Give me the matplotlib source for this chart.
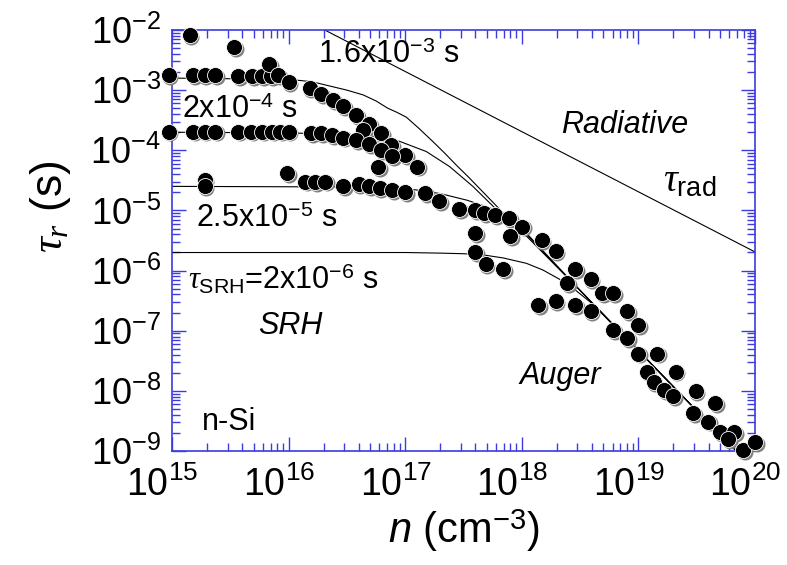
import numpy as np
import matplotlib
matplotlib.use('Agg')
import matplotlib.pyplot as plt
from matplotlib import font_manager
from matplotlib.ticker import NullFormatter
from matplotlib.transforms import ScaledTranslation

# valori, come log10(n) e log10(tau)
# riga alta (tau_SRH = 1.6e-3 s)
log_n_r1 = [15.15, 15.53, 14.97, 15.18, 15.28, 15.37, 15.57, 15.69, 15.77, 15.85, 15.83, 15.91,
            16.00, 16.18, 16.28, 16.38, 16.47, 16.58, 16.69, 16.64, 16.79, 16.88, 17.00, 17.10]
log_tau_r1 = [-2.09, -2.29, -2.75, -2.75, -2.75, -2.75, -2.76, -2.76, -2.76, -2.76, -2.57, -2.75,
              -2.87, -2.96, -3.07, -3.16, -3.26, -3.41, -3.56, -3.66, -3.72, -3.91, -4.08, -4.27]
# seconda riga (2e-4 s)
log_n_r2 = [14.97, 15.18, 15.28, 15.37, 15.57, 15.68, 15.77, 15.86, 15.93, 16.00, 16.19, 16.28,
            16.37, 16.47, 16.58, 16.69, 16.79, 16.89, 16.77]
log_tau_r2 = [-3.69, -3.69, -3.69, -3.69, -3.69, -3.69, -3.69, -3.69, -3.69, -3.69, -3.72, -3.72,
              -3.75, -3.79, -3.83, -3.90, -4.00, -4.09, -4.28]
# terza riga (2.5e-5 s)
log_n_r3 = [15.28, 15.28, 15.99, 16.14, 16.23, 16.31, 16.47, 16.60, 16.69, 16.78, 16.89, 17.00,
            17.17, 17.29, 17.46, 17.60, 17.68, 17.77, 17.89, 18.00]
log_tau_r3 = [-4.49, -4.60, -4.38, -4.52, -4.53, -4.52, -4.59, -4.56, -4.60, -4.63, -4.66, -4.69,
              -4.71, -4.84, -4.98, -4.99, -5.04, -5.08, -5.13, -5.27]
# regione Auger
log_n_r4 = [17.60, 17.90, 18.17, 18.29, 17.60, 17.69, 17.84, 18.46, 18.59, 18.39, 18.69, 18.78,
            18.14, 18.29, 18.46, 18.59, 18.90, 19.00, 18.78, 18.90, 19.00, 19.16, 19.07, 19.32,
            19.13, 19.22, 19.30, 19.49, 19.47, 19.66, 19.60, 19.70, 19.82, 19.77, 19.90, 20.00]
log_tau_r4 = [-5.38, -5.43, -5.50, -5.67, -5.69, -5.89, -5.98, -5.98, -6.14, -6.21, -6.38, -6.38,
              -6.58, -6.51, -6.58, -6.68, -6.68, -6.91, -6.99, -7.12, -7.38, -7.38, -7.68, -7.68,
              -7.85, -7.99, -8.09, -8.00, -8.37, -8.20, -8.51, -8.69, -8.69, -8.80, -8.98, -8.85]

# curve del modello
log_n_c1 = [15.0, 16.0, 16.2, 16.35, 16.5, 16.64, 16.75, 16.85, 16.93, 17.01, 17.12, 17.24, 17.34,
            17.44, 17.54, 17.64, 17.74, 17.83, 18.0, 18.5, 19.0, 19.5, 19.85]
log_tau_c1 = [-2.80, -2.82, -2.86, -2.93, -3.00, -3.08, -3.18, -3.30, -3.37, -3.45, -3.64, -3.86, -4.05,
              -4.25, -4.44, -4.64, -4.84, -5.02, -5.32, -6.33, -7.33, -8.33, -9.02]
log_n_c2 = [15.0, 16.0, 16.5, 16.75, 16.95, 17.18, 17.38, 17.58, 17.78, 17.95, 18.5, 19.0, 19.5, 19.85]
log_tau_c2 = [-3.70, -3.71, -3.74, -3.78, -3.85, -4.02, -4.27, -4.60, -4.98, -5.25, -6.33, -7.33, -8.33, -9.02]
log_n_c3 = [15.0, 16.5, 16.9, 17.1, 17.3, 17.53, 17.73, 17.9, 18.05, 18.5, 19.0, 19.5, 19.85]
log_tau_c3 = [-4.60, -4.61, -4.63, -4.66, -4.72, -4.83, -4.96, -5.13, -5.40, -6.33, -7.33, -8.33, -9.02]
log_n_c4 = [15.0, 17.0, 17.3, 17.5, 17.67, 17.84, 18.04, 18.18, 18.32, 18.47, 18.61, 18.75, 19.0, 19.5, 19.85]
log_tau_c4 = [-5.70, -5.70, -5.71, -5.72, -5.74, -5.79, -5.88, -5.99, -6.14, -6.34, -6.56, -6.84, -7.33, -8.33, -9.02]
log_n_rad = [16.2, 20.0]
log_tau_rad = [-1.89, -5.69]

# decadi degli assi
decadi_x = [15, 16, 17, 18, 19, 20]
decadi_y = [-9, -8, -7, -6, -5, -4, -3, -2]

blu = '#3b3bdf'
nomi = {f.name for f in font_manager.fontManager.ttflist}
font_tick = 'Liberation Sans Narrow' if 'Liberation Sans Narrow' in nomi else 'Liberation Sans'

plt.rcParams['font.family'] = 'Liberation Sans'
plt.rcParams['mathtext.fontset'] = 'custom'
plt.rcParams['mathtext.rm'] = 'Liberation Sans'
plt.rcParams['mathtext.it'] = 'Liberation Serif:italic'
plt.rcParams['mathtext.sf'] = 'Liberation Sans:italic'

fig = plt.figure(figsize=(7.87, 5.65), dpi=100)
ax = fig.add_axes([0.2186, 0.2018, 0.7407, 0.7451])
ax.set_xscale('log')
ax.set_yscale('log')

maj_x = [10.0 ** e for e in decadi_x]
maj_y = [10.0 ** e for e in decadi_y]
min_x = [m * 10.0 ** e for e in decadi_x[:-1] for m in range(2, 10)]
min_y = [m * 10.0 ** e for e in decadi_y[:-1] for m in range(2, 10)]
ax.set_xticks(maj_x, [r'$\mathdefault{10^{%d}}$' % e for e in decadi_x])
ax.set_yticks(maj_y, [r'$\mathdefault{10^{%d}}$' % e for e in decadi_y])
ax.set_xticks(min_x, minor=True)
ax.set_yticks(min_y, minor=True)
ax.xaxis.set_minor_formatter(NullFormatter())
ax.yaxis.set_minor_formatter(NullFormatter())
ax.set_xlim(1e15, 1e20)
ax.set_ylim(1e-9, 1e-2)

for ln, lt in [(log_n_c1, log_tau_c1), (log_n_c2, log_tau_c2), (log_n_c3, log_tau_c3),
               (log_n_c4, log_tau_c4), (log_n_rad, log_tau_rad)]:
    ax.plot(np.power(10.0, ln), np.power(10.0, lt), color='black', lw=0.8)

ombra = ax.transData + ScaledTranslation(1.3 / 72, -1.3 / 72, fig.dpi_scale_trans)
for ln, lt in [(log_n_r1, log_tau_r1), (log_n_r2, log_tau_r2), (log_n_r3, log_tau_r3), (log_n_r4, log_tau_r4)]:
    x = np.power(10.0, ln)
    y = np.power(10.0, lt)
    ax.plot(x, y, 'o', color='#808080', ms=11.5, mew=0, transform=ombra, clip_on=False, zorder=3)
    ax.plot(x, y, 'o', color='black', ms=11.5, mec='white', mew=0.6, clip_on=False, zorder=4)

for s in ax.spines.values():
    s.set_color(blu)
    s.set_linewidth(1.2)
ax.tick_params(which='both', direction='in', top=True, right=True, color=blu, width=1.0,
               labelfontfamily=font_tick)
ax.tick_params(which='major', length=10, pad=8)
ax.tick_params(which='minor', length=6)
ax.tick_params(axis='x', which='major', labelsize=27, pad=11)
ax.tick_params(axis='y', which='major', labelsize=26)

# etichette dell'asse x un po' spostate a sinistra come nell'originale
sposta = ScaledTranslation(-7 / 72, 0, fig.dpi_scale_trans)
for lab in ax.get_xticklabels():
    lab.set_transform(lab.get_transform() + sposta)

ax.set_xlabel(r'$\mathsf{n}$ (cm$^{\mathdefault{-3}}$)', fontsize=30)
ax.xaxis.set_label_coords(0.5, -0.135)
ax.set_ylabel(r'$\tau_r$ (s)', fontsize=32)
ax.yaxis.set_label_coords(-0.17, 0.58)

ax.text(0.250, 0.9216, '1.6x10$^{\\mathdefault{-3}}$ s', transform=ax.transAxes, fontsize=22, va='baseline')
ax.text(0.0166, 0.7917, '2x10$^{\\mathdefault{-4}}$ s', transform=ax.transAxes, fontsize=22, va='baseline')
ax.text(0.0406, 0.5313, '2.5x10$^{\\mathdefault{-5}}$ s', transform=ax.transAxes, fontsize=22, va='baseline')
ax.text(0.028, 0.3824, r'$\tau_{\mathrm{SRH}}$=2x10$^{\mathdefault{-6}}$ s', transform=ax.transAxes,
        fontsize=22, va='baseline')
ax.text(0.148, 0.278, 'SRH', transform=ax.transAxes, fontsize=22, style='italic', va='baseline')
ax.text(0.051, 0.050, 'n-Si', transform=ax.transAxes, fontsize=22, va='baseline')
ax.text(0.668, 0.756, 'Radiative', transform=ax.transAxes, fontsize=22, style='italic', va='baseline')
ax.text(0.8417, 0.616, r'$\tau_{\mathrm{rad}}$', transform=ax.transAxes, fontsize=28, va='baseline')
ax.text(0.5957, 0.1591, 'Auger', transform=ax.transAxes, fontsize=22, style='italic', va='baseline')

fig.savefig('out.png', dpi=100)
